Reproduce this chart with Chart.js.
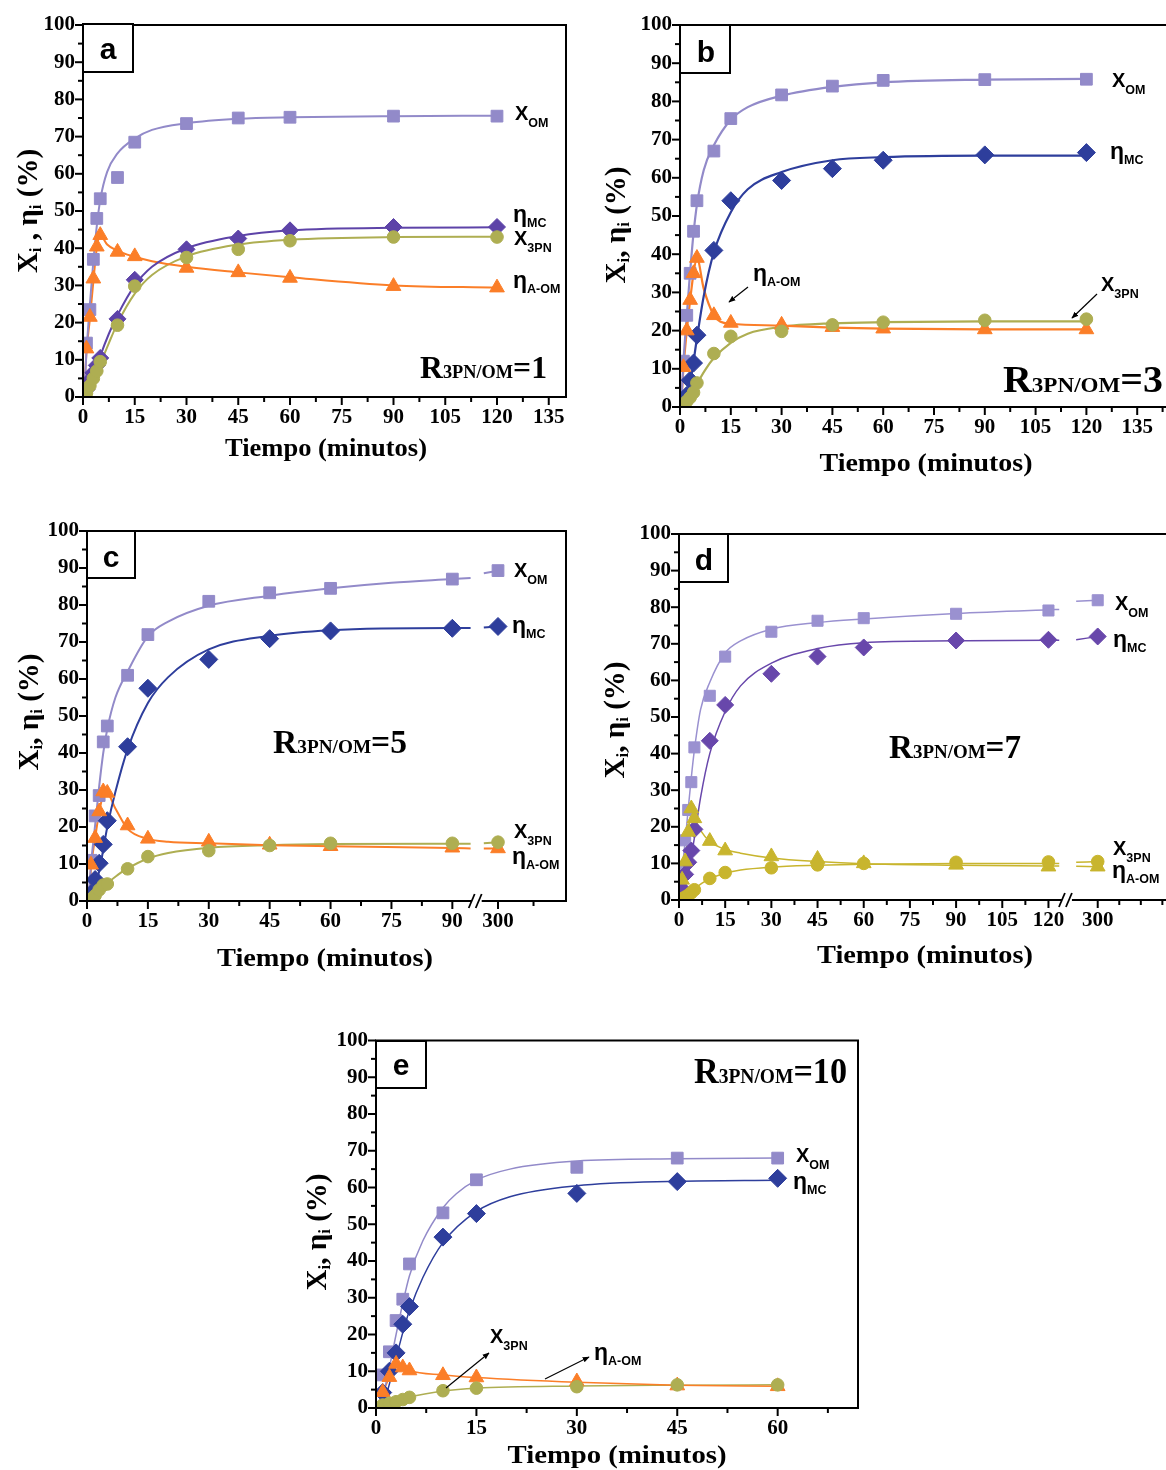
<!DOCTYPE html>
<html><head><meta charset="utf-8">
<script src="https://cdn.jsdelivr.net/npm/chart.js@4.4.1/dist/chart.umd.min.js"></script>
<style>
html,body{margin:0;padding:0;background:#fff;}
body{width:1166px;height:1470px;overflow:hidden;position:relative;}
#stage{position:absolute;left:0;top:0;width:1166px;height:1470px;overflow:hidden;}
#ov{position:absolute;left:0;top:0;pointer-events:none;}
</style></head><body>
<div id="stage"></div>
<svg id="ov" width="1166" height="1470" font-family="Liberation Serif, Times New Roman, serif" font-weight="bold">
<defs><marker id="ah" viewBox="0 0 10 10" refX="9" refY="5" markerWidth="7" markerHeight="7" markerUnits="userSpaceOnUse" orient="auto"><path d="M0,1 L10,5 L0,9 z" fill="#000"/></marker></defs>
<!-- panel a -->
<rect x="83" y="24" width="50" height="48" fill="#fff" stroke="#000" stroke-width="2"/>
<text x="108" y="59" font-family="Liberation Sans, Arial" font-size="30" text-anchor="middle">a</text>
<text x="420" y="378" font-size="32" textLength="127" lengthAdjust="spacingAndGlyphs">R<tspan font-size="18.5">3PN/OM</tspan>=1</text>
<text x="326" y="456" font-size="25" text-anchor="middle" textLength="202" lengthAdjust="spacingAndGlyphs">Tiempo (minutos)</text>
<text transform="translate(37,211) rotate(-90)" font-size="29" text-anchor="middle">X<tspan font-size="17" dy="4">i</tspan><tspan dy="-4"> , η</tspan><tspan font-size="17" dy="4">i</tspan><tspan dy="-4"> (%)</tspan></text>
<g font-family="Liberation Sans, Arial">
<text x="515" y="120" font-size="20">X<tspan font-size="12.5" dy="7">OM</tspan></text>
<text x="513" y="222" font-size="23">η<tspan font-size="12.5" dy="5">MC</tspan></text>
<text x="514" y="245" font-size="20">X<tspan font-size="12.5" dy="7">3PN</tspan></text>
<text x="513" y="288" font-size="23">η<tspan font-size="12.5" dy="5">A-OM</tspan></text>
</g>
<!-- panel b -->
<rect x="680" y="25" width="50" height="48" fill="#fff" stroke="#000" stroke-width="2"/>
<text x="706" y="62" font-family="Liberation Sans, Arial" font-size="30" text-anchor="middle">b</text>
<text x="1003" y="392" font-size="38" textLength="160" lengthAdjust="spacingAndGlyphs">R<tspan font-size="22">3PN/OM</tspan>=3</text>
<text x="926" y="471" font-size="25" text-anchor="middle" textLength="213" lengthAdjust="spacingAndGlyphs">Tiempo (minutos)</text>
<text transform="translate(625,225) rotate(-90)" font-size="29" text-anchor="middle">X<tspan font-size="17" dy="4">i</tspan><tspan dy="-4">, η</tspan><tspan font-size="17" dy="4">i</tspan><tspan dy="-4"> (%)</tspan></text>
<g font-family="Liberation Sans, Arial">
<text x="1112" y="87" font-size="20">X<tspan font-size="12.5" dy="7">OM</tspan></text>
<text x="1110" y="159" font-size="23">η<tspan font-size="12.5" dy="5">MC</tspan></text>
<text x="753" y="281" font-size="23">η<tspan font-size="12.5" dy="5">A-OM</tspan></text>
<text x="1101" y="291" font-size="20">X<tspan font-size="12.5" dy="7">3PN</tspan></text>
</g>
<line x1="748" y1="287" x2="729" y2="302" stroke="#000" stroke-width="1.2" marker-end="url(#ah)"/>
<line x1="1097" y1="294" x2="1072" y2="318" stroke="#000" stroke-width="1.2" marker-end="url(#ah)"/>
<!-- panel c -->
<rect x="87" y="531" width="48" height="47" fill="#fff" stroke="#000" stroke-width="2"/>
<text x="111" y="567" font-family="Liberation Sans, Arial" font-size="30" text-anchor="middle">c</text>
<text x="273" y="753" font-size="34" textLength="134" lengthAdjust="spacingAndGlyphs">R<tspan font-size="19.5">3PN/OM</tspan>=5</text>
<text x="325" y="966" font-size="25" text-anchor="middle" textLength="216" lengthAdjust="spacingAndGlyphs">Tiempo (minutos)</text>
<text transform="translate(38,712) rotate(-90)" font-size="29" text-anchor="middle">X<tspan font-size="17" dy="4">i</tspan><tspan dy="-4">, η</tspan><tspan font-size="17" dy="4">i</tspan><tspan dy="-4"> (%)</tspan></text>
<g font-family="Liberation Sans, Arial">
<text x="514" y="577" font-size="20">X<tspan font-size="12.5" dy="7">OM</tspan></text>
<text x="512" y="633" font-size="23">η<tspan font-size="12.5" dy="5">MC</tspan></text>
<text x="514" y="838" font-size="20">X<tspan font-size="12.5" dy="7">3PN</tspan></text>
<text x="512" y="864" font-size="23">η<tspan font-size="12.5" dy="5">A-OM</tspan></text>
</g>
<!-- panel d -->
<rect x="679" y="534" width="49" height="48" fill="#fff" stroke="#000" stroke-width="2"/>
<text x="704" y="570" font-family="Liberation Sans, Arial" font-size="30" text-anchor="middle">d</text>
<text x="889" y="758" font-size="34" textLength="132" lengthAdjust="spacingAndGlyphs">R<tspan font-size="19.5">3PN/OM</tspan>=7</text>
<text x="925" y="963" font-size="25" text-anchor="middle" textLength="216" lengthAdjust="spacingAndGlyphs">Tiempo (minutos)</text>
<text transform="translate(624,720) rotate(-90)" font-size="29" text-anchor="middle">X<tspan font-size="17" dy="4">i</tspan><tspan dy="-4">, η</tspan><tspan font-size="17" dy="4">i</tspan><tspan dy="-4"> (%)</tspan></text>
<g font-family="Liberation Sans, Arial">
<text x="1115" y="610" font-size="20">X<tspan font-size="12.5" dy="7">OM</tspan></text>
<text x="1113" y="647" font-size="23">η<tspan font-size="12.5" dy="5">MC</tspan></text>
<text x="1113" y="855" font-size="20">X<tspan font-size="12.5" dy="7">3PN</tspan></text>
<text x="1112" y="878" font-size="23">η<tspan font-size="12.5" dy="5">A-OM</tspan></text>
</g>
<!-- panel e -->
<rect x="376" y="1041" width="50" height="47" fill="#fff" stroke="#000" stroke-width="2"/>
<text x="401" y="1075" font-family="Liberation Sans, Arial" font-size="30" text-anchor="middle">e</text>
<text x="694" y="1083" font-size="35" textLength="153" lengthAdjust="spacingAndGlyphs">R<tspan font-size="20">3PN/OM</tspan>=10</text>
<text x="617" y="1463" font-size="25" text-anchor="middle" textLength="219" lengthAdjust="spacingAndGlyphs">Tiempo (minutos)</text>
<text transform="translate(326,1232) rotate(-90)" font-size="29" text-anchor="middle">X<tspan font-size="17" dy="4">i</tspan><tspan dy="-4">, η</tspan><tspan font-size="17" dy="4">i</tspan><tspan dy="-4"> (%)</tspan></text>
<g font-family="Liberation Sans, Arial">
<text x="796" y="1162" font-size="20">X<tspan font-size="12.5" dy="7">OM</tspan></text>
<text x="793" y="1189" font-size="23">η<tspan font-size="12.5" dy="5">MC</tspan></text>
<text x="490" y="1343" font-size="20">X<tspan font-size="12.5" dy="7">3PN</tspan></text>
<text x="594" y="1360" font-size="23">η<tspan font-size="12.5" dy="5">A-OM</tspan></text>
</g>
<line x1="446" y1="1388" x2="489" y2="1353" stroke="#000" stroke-width="1.2" marker-end="url(#ah)"/>
<line x1="545" y1="1379" x2="589" y2="1357" stroke="#000" stroke-width="1.2" marker-end="url(#ah)"/>
</svg>
<script>
// ---------- DATA ----------
const Y_TICKS = [0,10,20,30,40,50,60,70,80,90,100];

// Panel a  (R3PN/OM = 1)
const A_xTicks = [0,15,30,45,60,75,90,105,120,135];
const A_time   = [1,2,3,4,5,10,15,30,45,60,90,120];
const A_xOM    = [14.5,23.5,37,48,53.3,59,68.5,73.5,75,75.2,75.5,75.5];
const A_etaMC  = [2,4.5,6.5,8.5,10.5,21,31.5,39.7,42.6,44.8,45.7,45.7];
const A_etaAOM = [13,21.5,31.8,40.4,43.5,39,37.8,34.7,33.5,32,29.8,29.4];
const A_x3PN   = [1,3,5,7,9.5,19.3,29.8,37.5,39.7,42,43,43];
const A_fitXOM = [[0.3,0],[1,12],[2,25],[3,36.5],[4,46],[5,53],[7,60.5],[10,65.5],[15,69.5],[20,71.8],[30,73.6],[45,74.8],[60,75.2],[90,75.5],[120,75.6]];
const A_fitMC  = [[0.5,0],[3,5.5],[5,11],[7.5,17],[10,22],[15,30],[20,35],[30,40],[45,43.3],[60,44.8],[90,45.5],[120,45.6]];
const A_fitAOM = [[0.3,0],[1,12],[2,21],[3,31],[4,40],[5,43.5],[7,41],[10,39.3],[15,37.7],[20,36.5],[30,35],[45,33.5],[60,32.2],[90,30],[120,29.4]];
const A_fit3PN = [[1,0],[3,4],[5,8.8],[7.5,14.5],[10,19.8],[15,27.8],[20,32.8],[30,37.8],[45,41],[60,42.3],[90,43],[120,43.1]];

// Panel b  (R3PN/OM = 3)
const B_xTicks = [0,15,30,45,60,75,90,105,120,135];
const B_time   = [1,2,3,4,5,10,15,30,45,60,90,120];
const B_xOM    = [12,24,35,46,54,67,75.5,81.7,84,85.5,85.7,85.8];
const B_etaMC  = [1,3,7,11.5,18.8,41,54,59.3,62.4,64.6,66,66.6];
const B_etaAOM = [10.4,20,28,35,39,24,22,21.5,20.9,20.5,20.3,20.3];
const B_x3PN   = [0.5,1.5,2.5,3.8,6.3,14,18.5,19.8,21.5,22.2,22.7,23];
const B_fitXOM = [[0.3,0],[1,11.5],[2,24],[3,35.5],[4,45.5],[5,53],[7,62],[10,68.5],[15,75.2],[20,78.5],[30,81.5],[45,83.8],[60,85],[90,85.7],[120,85.9]];
const B_fitMC  = [[1.5,0],[3,6],[5,18],[7,29],[10,40.5],[15,51],[20,57],[30,61.5],[45,64.6],[60,65.4],[90,65.8],[120,65.8]];
const B_fitAOM = [[0.3,0],[1,10],[2,20],[3,28],[4,35],[5,39],[7,31],[10,24],[12,22.3],[15,21.8],[30,21.3],[45,20.8],[60,20.5],[90,20.3],[120,20.3]];
const B_fit3PN = [[1.8,0],[3,2.5],[5,6],[7.5,9.8],[10,12.8],[15,16.8],[20,19.2],[30,21],[45,21.9],[60,22.2],[90,22.4],[120,22.4]];

// Panel c  (R3PN/OM = 5), broken axis 90 // 300
const C_xTicks = [0,15,30,45,60,75,90,300];
const C_time   = [1,2,3,4,5,10,15,30,45,60,90,300];
const C_xOM    = [11,23,28.5,43,47.3,61,72,81,83.3,84.5,87,89.3];
const C_etaMC  = [2,5.8,10.2,15.3,21.7,41.7,57.5,65.3,70.9,73,73.7,74.2];
const C_etaAOM = [9.8,17,24.2,29.6,29.2,20.4,16.8,16,15.2,14.8,14.4,14.2];
const C_x3PN   = [0.5,1.5,3,4.3,4.6,8.7,12,13.6,15,15.6,15.6,15.9];
const C_fitXOM = [[0.3,0],[1,10],[2,20.5],[3,31],[4,40],[5,46.5],[7,55],[10,62],[15,71.5],[20,75.5],[30,79.8],[45,82.5],[60,84.5],[75,86],[90,87],[94.5,87.3],null,[296.5,88.6],[300,89.2]];
const C_fitMC  = [[1,0],[3,8],[5,20],[7,29.5],[10,41],[15,53.5],[20,60.5],[30,68],[45,71.7],[60,73.2],[90,73.8],[94.5,73.8],null,[296.5,73.9],[300,74.2]];
const C_fitAOM = [[0.5,0],[1,9],[2,17],[3,24],[4,28.5],[5,29],[7,25],[10,19.5],[15,16.8],[20,16],[30,15.6],[45,15.1],[60,14.8],[90,14.3],[94.5,14.2],null,[296.5,14.2],[300,14.2]];
const C_fit3PN = [[1.5,0],[3,2],[5,4.7],[7.5,7],[10,8.8],[15,11.5],[20,13],[30,14.4],[45,15.1],[60,15.4],[90,15.5],[94.5,15.5],null,[296.5,15.6],[300,15.9]];

// Panel d  (R3PN/OM = 7), broken axis 120 // 300
const D_xTicks = [0,15,30,45,60,75,90,105,120,300];
const D_time   = [1,2,3,4,5,10,15,30,45,60,90,120,300];
const D_xOM    = [9,16.3,24.6,32.2,41.7,55.8,66.5,73.3,76.3,77,78.2,79.1,81.9];
const D_etaMC  = [3,7,10.3,13.5,19.3,43.5,53.3,61.8,66.5,69,70.9,71.1,72];
const D_etaAOM = [5.5,10.5,18.6,25,22.3,16.1,13.5,11.9,11.2,10,9.6,9.1,9.1];
const D_x3PN   = [0.3,0.8,1.3,2,2.8,5.9,7.5,8.8,9.6,10,10.3,10.4,10.5];
const D_fitXOM = [[0.3,0],[1,8],[2,16],[3,25],[4,33.5],[5,41],[7,52],[10,59.5],[15,67.5],[20,70.8],[30,74],[45,75.8],[60,76.8],[90,78.3],[120,79.3],[123.5,79.4],null,[293,81.6],[300,81.9]];
const D_fitMC  = [[1,0],[3,7],[5,17],[7,28],[10,40],[15,51.5],[20,58.5],[30,64.7],[45,68.7],[60,70.3],[90,70.8],[120,71],[123.5,71],null,[293,71.1],[300,72]];
const D_fitAOM = [[0.3,0],[1,5],[2,11],[3,18],[4,24],[5,22.5],[7,19],[10,16],[15,13.8],[20,12.8],[30,11.5],[45,10.5],[60,9.9],[90,9.5],[120,9.3],[123.5,9.3],null,[293,9.2],[300,9.1]];
const D_fit3PN = [[1,0],[2,0.8],[3,1.5],[5,3],[7.5,4.6],[10,5.8],[15,7.3],[20,8.2],[30,9],[45,9.5],[60,9.8],[90,10],[120,10],[123.5,10],null,[293,10.3],[300,10.5]];

// Panel e  (R3PN/OM = 10)
const E_xTicks = [0,15,30,45,60];
const E_time   = [1,2,3,4,5,10,15,30,45,60];
const E_xOM    = [9,15.3,23.8,29.6,39.2,53.1,62.1,65.5,68,68];
const E_etaMC  = [4.2,10,15,22.8,27.6,46.5,52.9,58.4,61.6,62.5];
const E_etaAOM = [4.3,8.4,12,11,10.2,8.9,8.3,7.2,6.1,5.9];
const E_x3PN   = [0.8,1.3,1.7,2.3,2.9,4.7,5.4,5.8,6.3,6.3];
const E_fitXOM = [[0.5,0],[1,3],[2,11],[3,20],[4,28.5],[5,36],[7,45.5],[10,54.5],[12,58.3],[15,62],[20,65],[30,67.2],[45,67.8],[60,68]];
const E_fitMC  = [[1,0],[2,6.5],[3,13.5],[4,20.5],[5,26.5],[7,35.5],[10,45],[15,53.5],[20,57.5],[30,60.5],[45,61.7],[60,62]];
const E_fitAOM = [[0.2,0],[1,4],[2,8.3],[3,12],[4,11.2],[5,10.2],[10,9],[15,8.3],[30,7],[45,6.2],[60,5.9]];
const E_fit3PN = [[1,0.5],[2,1.2],[3,1.7],[5,2.9],[10,4.6],[15,5.4],[30,6],[45,6.2],[60,6.3]];

// ---------- STYLE ----------
const COL = {
  xom:'#928ac9', mcPurple:'#5d43a8', mcBlue:'#2e3e9c', aom:'#fb7e28', p3n:'#aeae52',
  dYel:'#c8b52e', dMC:'#6847ab', dXOM:'#9a91d0'
};
const id = t => t;
const mapC = t => (t > 150 ? t - 198.75 : t);
const mapD = t => (t > 150 ? t - 164 : t);
function steps(a, b, s){ const r=[]; for(let v=a; v<=b+1e-9; v+=s) r.push(v); return r; }

const framePlugin = {
  id:'frame',
  afterDatasetsDraw(chart, args, o){
    const ctx = chart.ctx, ca = chart.chartArea, xs = chart.scales.x, ys = chart.scales.y;
    ctx.save();
    ctx.strokeStyle = '#000'; ctx.lineWidth = 2; ctx.lineCap = 'butt';
    ctx.strokeRect(ca.left, ca.top, ca.right - ca.left, ca.bottom - ca.top);
    const seg = (x1,y1,x2,y2) => { ctx.beginPath(); ctx.moveTo(x1,y1); ctx.lineTo(x2,y2); ctx.stroke(); };
    o.yMajor.forEach(v => { const p = ys.getPixelForValue(v); seg(ca.left-8, p, ca.left, p); });
    o.yMinor.forEach(v => { const p = ys.getPixelForValue(v); seg(ca.left-5, p, ca.left, p); });
    o.xMajor.forEach(v => { const p = xs.getPixelForValue(v); if (p <= ca.right+1) seg(p, ca.bottom, p, ca.bottom+8); });
    o.xMinor.forEach(v => { const p = xs.getPixelForValue(v); if (p <= ca.right+1) seg(p, ca.bottom, p, ca.bottom+5); });
    if (o.brk !== null && o.brk !== undefined) {
      const p = xs.getPixelForValue(o.brk);
      ctx.fillStyle = '#fff';
      ctx.fillRect(p-5, ca.bottom-3, 10, 6);
      ctx.lineWidth = 1.8;
      seg(p-8, ca.bottom+7, p-2, ca.bottom-7);
      seg(p-1, ca.bottom+7, p+5, ca.bottom-7);
    }
    ctx.restore();
  }
};

const panels = [
  { pos:[0,0,590,475], pad:{left:0,top:25,right:24,bottom:38}, yW:83, xH:40, xMax:140, xTicks:A_xTicks, map:id, brk:null,
    xMinor:steps(7.5,140,15), lw:2,
    series:[
      {time:A_time, vals:A_xOM, fit:A_fitXOM, color:COL.xom, style:'rect', r:8.3},
      {time:A_time, vals:A_etaMC, fit:A_fitMC, color:COL.mcPurple, style:'rectRot', r:8.5},
      {time:A_time, vals:A_etaAOM, fit:A_fitAOM, color:COL.aom, style:'triangle', r:8.5},
      {time:A_time, vals:A_x3PN, fit:A_fit3PN, color:COL.p3n, style:'circle', r:6.3}
    ]},
  { pos:[590,0,620,475], pad:{left:0,top:25,right:22,bottom:28}, yW:90, xH:40, xMax:150, xTicks:B_xTicks, map:id, brk:null,
    xMinor:steps(7.5,150,15), lw:2.2,
    series:[
      {time:B_time, vals:B_xOM, fit:B_fitXOM, color:COL.xom, style:'rect', r:8.3},
      {time:B_time, vals:B_etaMC, fit:B_fitMC, color:COL.mcBlue, style:'rectRot', r:9},
      {time:B_time, vals:B_etaAOM, fit:B_fitAOM, color:COL.aom, style:'triangle', r:8.5},
      {time:B_time, vals:B_x3PN, fit:B_fit3PN, color:COL.p3n, style:'circle', r:6.3}
    ]},
  { pos:[0,500,590,480], pad:{left:0,top:31,right:24,bottom:39}, yW:87, xH:40, xMax:118, xTicks:C_xTicks, map:mapC, brk:96,
    xMinor:steps(7.5,90,15).concat([110]), lw:2,
    series:[
      {time:C_time, vals:C_xOM, fit:C_fitXOM, color:COL.xom, style:'rect', r:8.3},
      {time:C_time, vals:C_etaMC, fit:C_fitMC, color:COL.mcBlue, style:'rectRot', r:9},
      {time:C_time, vals:C_etaAOM, fit:C_fitAOM, color:COL.aom, style:'triangle', r:8.5},
      {time:C_time, vals:C_x3PN, fit:C_fit3PN, color:COL.p3n, style:'circle', r:6.3}
    ]},
  { pos:[590,500,620,480], pad:{left:0,top:34,right:23,bottom:40}, yW:89, xH:40, xMax:165, xTicks:D_xTicks, map:mapD, brk:126,
    xMinor:steps(7.5,120,15).concat([143,150,157,164]), lw:1.5,
    series:[
      {time:D_time, vals:D_xOM, fit:D_fitXOM, color:COL.dXOM, style:'rect', r:7.8},
      {time:D_time, vals:D_etaMC, fit:D_fitMC, color:COL.dMC, style:'rectRot', r:8.5},
      {time:D_time, vals:D_etaAOM, fit:D_fitAOM, color:COL.dYel, style:'triangle', r:8.5},
      {time:D_time, vals:D_x3PN, fit:D_fit3PN, color:COL.dYel, style:'circle', r:6.3}
    ]},
  { pos:[290,1010,590,460], pad:{left:0,top:30.5,right:22,bottom:22}, yW:86, xH:40, xMax:72, xTicks:E_xTicks, map:id, brk:null,
    xMinor:steps(7.5,72,15), lw:1.5,
    series:[
      {time:E_time, vals:E_xOM, fit:E_fitXOM, color:COL.xom, style:'rect', r:8.3},
      {time:E_time, vals:E_etaMC, fit:E_fitMC, color:COL.mcBlue, style:'rectRot', r:9},
      {time:E_time, vals:E_etaAOM, fit:E_fitAOM, color:COL.aom, style:'triangle', r:8.5},
      {time:E_time, vals:E_x3PN, fit:E_fit3PN, color:COL.p3n, style:'circle', r:6.3}
    ]}
];

const tickFont = {family:'Liberation Serif', weight:'bold', size:21};

panels.forEach(cfg => {
  const cv = document.createElement('canvas');
  cv.width = cfg.pos[2]; cv.height = cfg.pos[3];
  cv.style.cssText = `position:absolute;left:${cfg.pos[0]}px;top:${cfg.pos[1]}px;width:${cfg.pos[2]}px;height:${cfg.pos[3]}px;`;
  document.getElementById('stage').appendChild(cv);
  const datasets = [];
  cfg.series.forEach((s, i) => {
    const fitPts = s.fit.map(p => p ? {x: cfg.map(p[0]), y: p[1]} : {x: cfg.brk === null ? 0 : cfg.brk, y: null});
    datasets.push({ data: fitPts, showLine:true, pointRadius:0, pointHoverRadius:0, borderColor:s.color,
      borderWidth:cfg.lw, cubicInterpolationMode:'monotone', spanGaps:false, fill:false, order:10+i });
    const pts = [];
    s.time.forEach((t, k) => { if (s.vals[k] !== null) pts.push({x: cfg.map(t), y: s.vals[k]}); });
    datasets.push({ data: pts, showLine:false, pointStyle:s.style, pointRadius:s.r, pointHoverRadius:s.r,
      backgroundColor:s.color, borderColor:s.color, borderWidth:1, order:4-i });
  });
  new Chart(cv, {
    type:'line',
    data:{datasets},
    plugins:[framePlugin],
    options:{
      animation:false, responsive:false, devicePixelRatio:1,
      layout:{padding:cfg.pad},
      plugins:{legend:{display:false}, tooltip:{enabled:false},
        frame:{yMajor:Y_TICKS, yMinor:steps(5,95,10), xMajor:cfg.xTicks.map(cfg.map), xMinor:cfg.xMinor, brk:cfg.brk}},
      scales:{
        x:{type:'linear', min:0, max:cfg.xMax,
          afterBuildTicks: sc => { sc.ticks = cfg.xTicks.map(v => ({value: cfg.map(v)})); },
          ticks:{autoSkip:false, maxRotation:0, minRotation:0, padding:8, color:'#000', font:tickFont,
            callback:(v, i) => String(cfg.xTicks[i])},
          grid:{display:false, drawTicks:false}, border:{display:false},
          afterFit: sc => { sc.height = cfg.xH; sc.paddingLeft = 0; sc.paddingRight = 0; }},
        y:{min:0, max:100,
          afterBuildTicks: sc => { sc.ticks = Y_TICKS.map(v => ({value:v})); },
          ticks:{autoSkip:false, padding:8, color:'#000', font:tickFont, callback:(v, i) => String(Y_TICKS[i])},
          grid:{display:false, drawTicks:false}, border:{display:false},
          afterFit: sc => { sc.width = cfg.yW; sc.paddingTop = 0; sc.paddingBottom = 0; }}
      }
    }
  });
});
</script>
</body></html>
